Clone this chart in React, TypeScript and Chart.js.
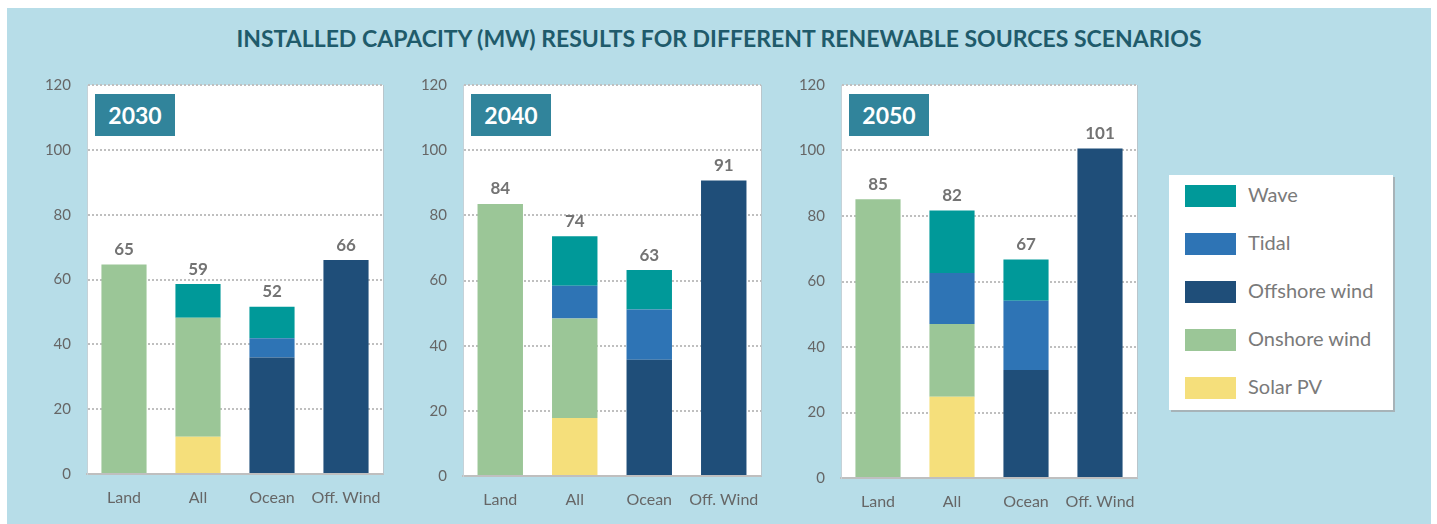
import React, { useEffect, useRef } from "react";
import { Chart, registerables } from "chart.js";

Chart.register(...registerables);

const FONT = "Lato, 'Open Sans', sans-serif";

const titleText = "INSTALLED CAPACITY (MW) RESULTS FOR DIFFERENT RENEWABLE SOURCES SCENARIOS";
const categories = ["Land", "All", "Ocean", "Off. Wind"];
const years = ["2030", "2040", "2050"];
const seriesNames = ["Solar PV", "Onshore wind", "Offshore wind", "Tidal", "Wave"];
const seriesColors = ["#F5DF7B", "#9BC697", "#1F4E79", "#2E74B5", "#009999"];
const yMin = 0;
const yMax = 120;
const yStep = 20;

// 2030
const solar2030 = [0, 11.5, 0, 0];
const onshore2030 = [64.6, 36.7, 0, 0];
const offshore2030 = [0, 0, 35.9, 66.0];
const tidal2030 = [0, 0, 6.0, 0];
const wave2030 = [0, 10.4, 9.7, 0];

// 2040
const solar2040 = [0, 17.8, 0, 0];
const onshore2040 = [83.5, 30.5, 0, 0];
const offshore2040 = [0, 0, 35.7, 90.7];
const tidal2040 = [0, 10.1, 15.4, 0];
const wave2040 = [0, 15.2, 12.1, 0];

// 2050
const solar2050 = [0, 24.8, 0, 0];
const onshore2050 = [85.1, 22.2, 0, 0];
const offshore2050 = [0, 0, 33.0, 100.6];
const tidal2050 = [0, 15.6, 21.1, 0];
const wave2050 = [0, 19.1, 12.6, 0];

const yearSeries = [
  [solar2030, onshore2030, offshore2030, tidal2030, wave2030],
  [solar2040, onshore2040, offshore2040, tidal2040, wave2040],
  [solar2050, onshore2050, offshore2050, tidal2050, wave2050],
];

// plot-area geometry of the three panels (page px)
const panelGeom = [
  { left: 87, right: 383, top: 85, bottom: 474 },
  { left: 463, right: 761, top: 85, bottom: 476 },
  { left: 841, right: 1137, top: 85, bottom: 478 },
];

const Y_AXIS_W = 67;
const X_AXIS_H = 40;
const PAD_TOP = 0;
const PAD_RIGHT = 17;
const CANVAS_TOP = 60;

const plotBgPlugin = {
  id: "plotBg",
  beforeDraw(chart: any) {
    const { ctx, chartArea } = chart;
    ctx.save();
    ctx.fillStyle = "#FFFFFF";
    ctx.fillRect(chartArea.left, chartArea.top, chartArea.right - chartArea.left, chartArea.bottom - chartArea.top);
    ctx.restore();
  },
  afterDraw(chart: any) {
    const { ctx, chartArea } = chart;
    ctx.save();
    ctx.strokeStyle = "#B9C6CC";
    ctx.lineWidth = 1;
    ctx.beginPath();
    ctx.moveTo(chartArea.right + 0.5, chartArea.top);
    ctx.lineTo(chartArea.right + 0.5, chartArea.bottom);
    ctx.stroke();
    ctx.restore();
  },
};

const totalsPlugin = {
  id: "totals",
  afterDatasetsDraw(chart: any) {
    const { ctx } = chart;
    const xs = chart.scales.x;
    const ys = chart.scales.y;
    const n = chart.data.labels.length;
    ctx.save();
    ctx.font = `bold 17px ${FONT}`;
    ctx.fillStyle = "#737373";
    ctx.textAlign = "center";
    ctx.textBaseline = "middle";
    for (let i = 0; i < n; i++) {
      let total = 0;
      chart.data.datasets.forEach((ds: any) => {
        total += ds.data[i] || 0;
      });
      const x = xs.getPixelForValue(i);
      const y = ys.getPixelForValue(total);
      ctx.fillText(String(Math.round(total)), x, y - 15);
    }
    ctx.restore();
  },
};

function Panel({ idx }: { idx: number }) {
  const ref = useRef<HTMLCanvasElement | null>(null);
  const g = panelGeom[idx];
  const canvasLeft = g.left - Y_AXIS_W;
  const width = g.right - g.left + Y_AXIS_W + PAD_RIGHT;
  const height = g.bottom - CANVAS_TOP + X_AXIS_H;

  useEffect(() => {
    if (!ref.current) return;
    const series = yearSeries[idx];
    const chart = new Chart(ref.current, {
      type: "bar",
      data: {
        labels: categories,
        datasets: series.map((d, i) => ({
          label: seriesNames[i],
          data: d,
          backgroundColor: seriesColors[i],
          borderWidth: 0,
          barPercentage: 0.61,
          categoryPercentage: 1,
        })),
      },
      options: {
        responsive: false,
        animation: false,
        layout: { padding: { top: PAD_TOP, right: PAD_RIGHT, left: 0, bottom: 0 } },
        plugins: {
          legend: { display: false },
          tooltip: { enabled: false },
          title: { display: false },
        },
        scales: {
          x: {
            stacked: true,
            grid: { display: false, drawTicks: false },
            border: { display: true, color: "#BFBFBF", width: 2 },
            ticks: {
              color: "#666666",
              font: { family: FONT, size: 16 },
              padding: 14,
              autoSkip: false,
              maxRotation: 0,
              minRotation: 0,
            },
            afterFit: (s: any) => {
              s.height = X_AXIS_H;
            },
          },
          y: {
            stacked: true,
            min: yMin,
            max: yMax,
            grid: {
              drawTicks: false,
              color: (c: any) => (c.tick && c.tick.value === 0 ? "rgba(0,0,0,0)" : "#BFBFBF"),
              lineWidth: 2,
            },
            border: { display: true, color: "#C5D2D8", width: 1, dash: [2, 2] },
            ticks: {
              stepSize: yStep,
              color: "#666666",
              font: { family: FONT, size: 15 },
              padding: 16,
            },
            afterFit: (s: any) => {
              s.width = Y_AXIS_W;
            },
          },
        },
      } as any,
      plugins: [plotBgPlugin, totalsPlugin],
    });
    return () => chart.destroy();
  }, [idx]);

  return (
    <>
      <canvas
        ref={ref}
        width={width}
        height={height}
        style={{ position: "absolute", left: canvasLeft, top: CANVAS_TOP, width, height }}
      />
      <div
        style={{
          position: "absolute",
          left: g.left + 8,
          top: 94,
          width: 80,
          height: 42,
          background: "#31849B",
          color: "#FFFFFF",
          fontFamily: FONT,
          fontWeight: 700,
          fontSize: 23,
          display: "flex",
          alignItems: "center",
          justifyContent: "center",
        }}
      >
        {years[idx]}
      </div>
    </>
  );
}

function Legend() {
  const order = [4, 3, 2, 1, 0];
  return (
    <div
      style={{
        position: "absolute",
        left: 1169,
        top: 175,
        width: 224,
        height: 235,
        background: "#FFFFFF",
        boxShadow: "2px 2px 0 #A7B3B8",
      }}
    >
      {order.map((si, k) => (
        <div key={si} style={{ position: "absolute", left: 16, top: 10 + k * 48, height: 22, display: "flex", alignItems: "center" }}>
          <div style={{ width: 51, height: 22, background: seriesColors[si] }} />
          <span
            style={{
              marginLeft: 12,
              fontFamily: FONT,
              fontSize: 20,
              color: "#7A7A7A",
              whiteSpace: "nowrap",
              lineHeight: "22px",
              position: "relative",
              top: -2,
            }}
          >
            {seriesNames[si]}
          </span>
        </div>
      ))}
    </div>
  );
}

export default function App() {
  return (
    <div style={{ position: "absolute", left: 0, top: 0, width: 1437, height: 524, overflow: "hidden", background: "#FFFFFF" }}>
      <div style={{ position: "absolute", left: 7, top: 8, width: 1424, height: 516, background: "#B7DDE8" }} />
      <div
        style={{
          position: "absolute",
          left: 7,
          top: 23,
          width: 1424,
          textAlign: "center",
          fontFamily: FONT,
          fontWeight: 700,
          fontSize: 23,
          lineHeight: "30px",
          color: "#1F5B6B",
        }}
      >
        {titleText}
      </div>
      {[0, 1, 2].map((i) => (
        <Panel key={i} idx={i} />
      ))}
      <Legend />
    </div>
  );
}
